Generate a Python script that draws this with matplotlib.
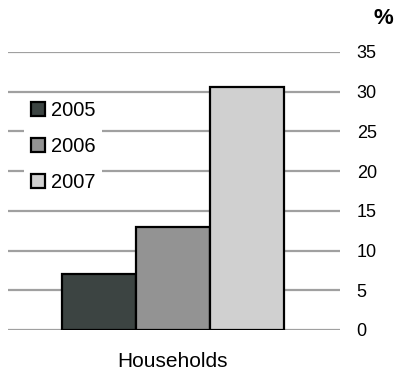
import matplotlib
matplotlib.use("Agg")
import matplotlib.pyplot as plt
from matplotlib.patches import Patch

categories = ["Households"]
years = ["2005", "2006", "2007"]
values = [7.0, 13.0, 30.6]
colors = ["#3c4442", "#939393", "#d0d0d0"]
yticks = [0, 5, 10, 15, 20, 25, 30, 35]

plt.rcParams['font.family'] = ['Liberation Sans', 'DejaVu Sans']

fig = plt.figure(figsize=(3.97, 3.72), dpi=100)
ax = fig.add_axes([8/397, 1-330/372, 332/397, 278/372])

offsets = [-1, 0, 1]
for off, v, c, yr in zip(offsets, values, colors, years):
    ax.bar(off, v, width=1.0, color=c, edgecolor="black", linewidth=1.6, zorder=3, label=yr)

ax.set_ylim(0, 35)
ax.set_xlim(-2.23, 2.26)
ax.set_yticks(yticks)
ax.yaxis.tick_right()
ax.tick_params(axis='y', length=0, pad=12, labelsize=13)
ax.tick_params(axis='x', length=0, labelsize=15, pad=16)
ax.set_xticks([0])
ax.set_xticklabels(categories)
for s in ax.spines.values():
    s.set_visible(False)
ax.grid(axis='y', color="#a0a0a0", linewidth=1.6, zorder=0)
ax.set_axisbelow(True)

fig.text(393/397, 1-19/372, "%", fontsize=16, fontweight='bold', ha='right', va='center')

handles = [Patch(facecolor=c, edgecolor='black', linewidth=1.6) for c in colors]
leg = fig.legend(handles, years, loc='upper left', bbox_to_anchor=(24/397, 1-94/372),
                 frameon=True, fontsize=14.5, handlelength=0.7, handleheight=0.7,
                 handletextpad=0.26, labelspacing=0.85, borderpad=0.36, borderaxespad=0)
leg.get_frame().set_edgecolor('none')
leg.get_frame().set_facecolor('white')
leg.get_frame().set_alpha(1)
leg.set_zorder(5)

fig.savefig("out.png", dpi=100)
